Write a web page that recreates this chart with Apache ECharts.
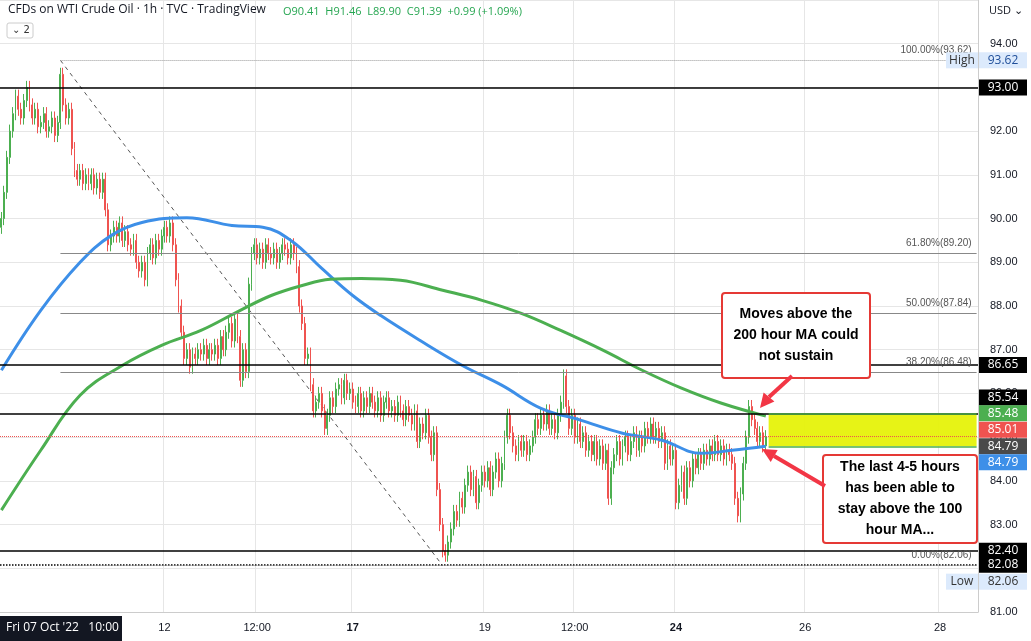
<!DOCTYPE html>
<html><head><meta charset="utf-8">
<script src="https://cdn.jsdelivr.net/npm/echarts@6/dist/echarts.min.js"></script>
<style>html,body{margin:0;padding:0;background:#fff}#c{width:1031px;height:641px}</style>
</head><body><div id="c"></div>
<script>
const closes = [
90.0,90.6,91.4,92.0,92.4,92.8,92.5,92.3,92.7,93.0,
92.6,92.3,92.5,92.1,92.2,92.4,92.0,92.1,92.3,91.9,
92.2,93.3,92.6,92.3,92.5,91.6,91.1,90.9,91.1,90.8,
91.0,90.8,91.0,90.7,90.9,90.6,90.9,90.2,89.4,89.6,
89.8,89.6,89.9,89.5,89.7,89.4,89.3,89.5,89.0,88.8,
89.0,88.6,89.2,89.4,89.1,89.5,89.3,89.6,89.8,89.6,
89.9,89.4,88.6,88.0,87.4,86.8,87.0,86.6,86.9,86.8,
87.0,86.9,87.1,86.8,87.0,86.9,87.1,86.8,87.3,87.0,
87.4,87.6,87.2,87.7,87.3,86.3,87.0,86.5,88.5,89.2,
89.4,89.1,89.3,89.0,89.4,89.2,89.1,89.3,89.0,89.2,
89.4,89.3,89.1,89.4,89.2,88.9,88.0,87.6,86.8,86.9,
86.2,85.6,85.8,86.0,85.6,85.2,85.5,85.9,85.7,86.1,
86.2,85.9,86.3,86.0,86.1,85.8,85.7,86.0,85.6,85.9,
85.7,86.0,85.8,85.6,85.9,85.5,85.8,85.9,85.6,85.7,
85.5,85.8,85.6,85.4,85.7,85.5,85.3,85.6,84.9,85.3,
85.1,85.5,85.0,84.6,85.1,83.8,83.0,82.4,82.3,82.6,
82.9,83.3,83.1,83.6,83.4,83.9,84.2,83.8,84.1,83.5,
83.9,84.2,84.0,84.3,83.8,84.2,84.5,84.0,84.4,85.0,
85.5,85.1,84.8,84.6,84.9,84.7,84.9,84.6,84.8,85.0,
85.4,85.2,85.5,85.3,85.6,85.2,85.4,85.1,85.5,85.8,
86.4,85.7,85.2,85.5,85.0,85.3,84.9,85.1,84.7,84.9,
84.6,84.9,84.5,84.8,84.4,84.7,83.6,84.3,84.6,84.9,
84.5,84.8,85.0,84.6,84.9,85.1,84.7,85.0,84.8,85.2,
85.0,85.3,85.0,85.2,84.9,85.1,84.4,84.8,84.5,84.7,
83.5,83.9,84.2,83.6,84.3,84.0,84.5,84.3,84.6,84.4,
84.7,84.5,84.8,84.6,84.9,84.6,84.8,84.5,84.7,84.6,
84.4,83.6,83.2,83.7,84.4,85.0,85.7,85.4,85.2,84.9,
85.1,84.8,85.01];
const firstOpen = 89.8;
const ma100Idx = [0,14,28,39,50,66,82,93,103,114,125,135,149,164,178,192,206,221,235,249,260,272];
const ma100Val = [86.53,87.90,89.00,89.61,89.91,90.02,89.84,89.80,89.50,88.86,88.24,87.78,87.21,86.64,86.19,85.66,85.39,85.09,84.93,84.63,84.70,84.79];
const ma200Idx = [0,14,28,43,57,71,85,96,107,117,128,142,157,171,185,199,214,228,242,256,272];
const ma200Val = [83.33,84.70,85.96,86.64,87.10,87.44,87.90,88.24,88.47,88.61,88.63,88.59,88.36,88.13,87.83,87.44,86.99,86.53,86.12,85.78,85.48];
const xLabelMap = {58:'12',91:'12:00',125:'17',172:'19',204:'12:00',240:'24',286:'26',334:'28'};
const boldLabels = ['17','24'];
const totalSlots = 348;
const fibLevels = [[93.62,'100.00%(93.62)'],[89.20,'61.80%(89.20)'],[87.84,'50.00%(87.84)'],[86.48,'38.20%(86.48)'],[82.06,'0.00%(82.06)']];
const blackLevels = [93.00,86.65,85.54,82.40,82.08];
const fibStart = 21, fibEnd = 157;

const cats = Array.from({length: totalSlots}, (_, i) => String(i));
const ohlc = closes.map((c, i) => {
  const o = i === 0 ? firstOpen : closes[i-1];
  return [o, c, Math.min(o,c)-0.15, Math.max(o,c)+0.15];
});
function sparse(idx, val){ const a = new Array(closes.length).fill(null); idx.forEach((k,j)=>a[k]=val[j]); return a; }
const diag = new Array(closes.length).fill(null); diag[fibStart]=93.62; diag[fibEnd]=82.06;

const mlData = [];
blackLevels.forEach(v => mlData.push({yAxis: v, lineStyle:{color:'#000', width: 1.5, type: v===82.08?'dotted':'solid'}, label:{show:false}}));
fibLevels.forEach(([v,t]) => mlData.push([{coord:[fibStart, v], lineStyle:{color: v===93.62?'#999':'#888', width:1, type: (v===93.62||v===82.06)?'dotted':'solid'}, label:{show:true, position:'insideEndTop', formatter:t, color:'#555', fontSize:10}}, {coord:[totalSlots-1, v]}]));
mlData.push({yAxis: 85.01, lineStyle:{color:'#ef5350', width:1, type:'dotted'}, label:{show:false}});
mlData.push([{coord:[closes.length, 85.54], lineStyle:{color:'#4caf50', width:1.5, type:'solid'}, label:{show:false}}, {coord:[totalSlots-1, 85.54]}]);
mlData.push([{coord:[closes.length, 84.79], lineStyle:{color:'#4caf50', width:1.5, type:'solid'}, label:{show:false}}, {coord:[totalSlots-1, 84.79]}]);

const chart = echarts.init(document.getElementById('c'));
chart.setOption({
  animation:false,
  grid:{left:0, right:53, top:-1, height:613},
  xAxis:{type:'category', data:cats, boundaryGap:true,
    axisLine:{lineStyle:{color:'#ccc'}}, axisTick:{show:false},
    axisLabel:{interval:(i)=> xLabelMap[i]!==undefined, margin:10, color:'#131722', fontSize:11,
      formatter:(v,i)=>{const t=xLabelMap[i]; return boldLabels.includes(t)?'{b|'+t+'}':t;},
      rich:{b:{fontWeight:'bold', fontSize:11, color:'#131722'}}},
    splitLine:{show:true, interval:(i)=> xLabelMap[i]!==undefined, lineStyle:{color:'#e6e6e6'}}},
  yAxis:{type:'value', position:'right', min:81, max:95, interval:1, scale:true,
    axisLine:{show:true, lineStyle:{color:'#ccc'}}, axisTick:{show:false},
    axisLabel:{formatter:v=>v.toFixed(2), color:'#131722', fontSize:11, margin:12, showMaxLabel:false},
    splitLine:{lineStyle:{color:'#e6e6e6'}}},
  series:[
    {type:'candlestick', data:ohlc, barMaxWidth:2,
      itemStyle:{color:'#4caf50', color0:'#ef5350', borderColor:'#4caf50', borderColor0:'#ef5350'},
      markLine:{symbol:'none', silent:true, data:mlData},
      markArea:{silent:true, data:[[{coord:[closes.length, 85.54], itemStyle:{color:'#e6f20a', opacity:0.95}}, {coord:[totalSlots-1, 84.79]}]]}},
    {type:'line', data:sparse(ma100Idx, ma100Val), connectNulls:true, smooth:0.4, symbol:'none', lineStyle:{color:'#3d8fe8', width:3}, z:3},
    {type:'line', data:sparse(ma200Idx, ma200Val), connectNulls:true, smooth:0.4, symbol:'none', lineStyle:{color:'#4caf50', width:3}, z:3},
    {type:'line', data:diag, connectNulls:true, symbol:'none', lineStyle:{color:'#555', width:1, type:[4,4]}, z:2}
  ]
});

const badges = [
  [93.62,'93.62','#dceafc','#1f4e99',0],
  [93.00,'93.00','#000','#fff',0],
  [86.65,'86.65','#000','#fff',0],
  [85.54,'85.54','#000','#fff',-16],
  [85.48,'85.48','#4caf50','#fff',-3],
  [85.01,'85.01','#ef5350','#fff',-7],
  [84.79,'84.79','#4a4a4a','#fff',0],
  [84.79,'84.79','#3d8fe8','#fff',16],
  [82.40,'82.40','#000','#fff',0],
  [82.08,'82.08','#000','#fff',0],
  [82.06,'82.06','#dceafc','#333',16]
];
const g = [];
badges.forEach(([v,t,bg,fg,dy]) => {
  const y = chart.convertToPixel({yAxisIndex:0}, v) + dy;
  g.push({type:'rect', shape:{x:979,y:y-8,width:48,height:16}, style:{fill:bg}, z:100});
  g.push({type:'text', x:1003, y:y, style:{text:t, fill:fg, font:'12px "Open Sans", sans-serif', align:'center', verticalAlign:'middle'}, z:101});
});
const yHigh = chart.convertToPixel({yAxisIndex:0}, 93.62), yLow = chart.convertToPixel({yAxisIndex:0}, 82.06)+16;
[[yHigh,'High'],[yLow,'Low']].forEach(([y,t])=>{
  g.push({type:'rect', shape:{x:946,y:y-8,width:32,height:16}, style:{fill:'#dceafc'}, z:100});
  g.push({type:'text', x:962, y:y, style:{text:t, fill:'#333', font:'12px "Open Sans", sans-serif', align:'center', verticalAlign:'middle'}, z:101});
});
g.push({type:'text', x:8, y:4, style:{text:'CFDs on WTI Crude Oil · 1h · TVC · TradingView', fill:'#131722', font:'12px "Open Sans", sans-serif'}, z:100});
g.push({type:'text', x:283, y:6, style:{text:'O90.41  H91.46  L89.90  C91.39  +0.99 (+1.09%)', fill:'#26a651', font:'11px "Open Sans", sans-serif'}, z:100});
g.push({type:'rect', shape:{x:7,y:23,width:26,height:15,r:2}, style:{fill:'#fff', stroke:'#ccc'}, z:100});
g.push({type:'text', x:12, y:25, style:{text:'⌄ 2', fill:'#333', font:'10px "DejaVu Sans", sans-serif'}, z:101});
g.push({type:'text', x:989, y:5, style:{text:'USD ⌄', fill:'#131722', font:'11px "Open Sans", sans-serif'}, z:100});
g.push({type:'rect', shape:{x:0,y:616,width:122,height:25}, style:{fill:'#131722'}, z:100});
g.push({type:'text', x:6, y:628, style:{text:"Fri 07 Oct '22   10:00", fill:'#fff', font:'12px "Open Sans", sans-serif', verticalAlign:'middle'}, z:101});
g.push({type:'rect', shape:{x:722,y:293,width:148,height:85,r:3}, style:{fill:'#fff', stroke:'#e53935', lineWidth:2}, z:100});
g.push({type:'text', x:796, y:335, style:{text:'Moves above the\n200 hour MA could\nnot sustain', fill:'#000', font:'bold 14px "Liberation Sans", Arial, sans-serif', align:'center', verticalAlign:'middle', lineHeight:21}, z:101});
g.push({type:'rect', shape:{x:823,y:455,width:154,height:88,r:3}, style:{fill:'#fff', stroke:'#e53935', lineWidth:2}, z:100});
g.push({type:'text', x:900, y:499, style:{text:'The last 4-5 hours\nhas been able to\nstay above the 100\nhour MA...', fill:'#000', font:'bold 14px "Liberation Sans", Arial, sans-serif', align:'center', verticalAlign:'middle', lineHeight:21}, z:101});
g.push({type:'line', shape:{x1:792,y1:376,x2:769,y2:397}, style:{stroke:'#f23645', lineWidth:4}, z:100});
g.push({type:'polygon', shape:{points:[[760,408],[774.4,401.5],[763.6,392.5]]}, style:{fill:'#f23645'}, z:100});
g.push({type:'line', shape:{x1:825,y1:486,x2:774,y2:456}, style:{stroke:'#f23645', lineWidth:4}, z:100});
g.push({type:'polygon', shape:{points:[[762,449],[777.7,449.9],[770.7,462.1]]}, style:{fill:'#f23645'}, z:100});
chart.setOption({graphic:g});
</script></body></html>
